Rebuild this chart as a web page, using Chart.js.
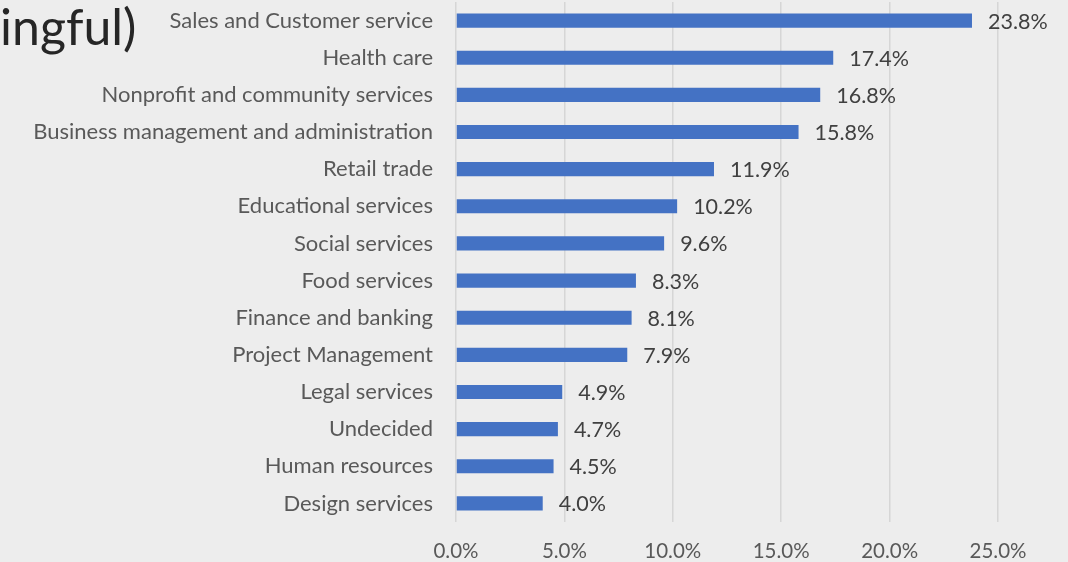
<!DOCTYPE html>
<html>
<head>
<meta charset="utf-8">
<script src="https://cdn.jsdelivr.net/npm/chart.js@4"></script>
<style>
  html, body { margin: 0; padding: 0; background: #ededed; }
  #wrap { width: 1068px; height: 562px; position: relative; }
</style>
</head>
<body>
<div id="wrap"><canvas id="c"></canvas></div>
<script>
// Fields of work, with the share of respondents for each
const categories = [
  'Sales and Customer service',
  'Health care',
  'Nonprofit and community services',
  'Business management and administration',
  'Retail trade',
  'Educational services',
  'Social services',
  'Food services',
  'Finance and banking',
  'Project Management',
  'Legal services',
  'Undecided',
  'Human resources',
  'Design services'
];
const shares = [23.8, 17.4, 16.8, 15.8, 11.9, 10.2, 9.6, 8.3, 8.1, 7.9, 4.9, 4.7, 4.5, 4.0];
const xTicks = [0, 5, 10, 15, 20, 25];
const titleFragment = 'ingful)';

const FONT = 'Lato, "Open Sans", sans-serif';

// Percentage labels at the end of each bar
const valueLabels = {
  id: 'valueLabels',
  afterDatasetsDraw(chart) {
    const ctx = chart.ctx;
    const meta = chart.getDatasetMeta(0);
    ctx.save();
    ctx.font = '21.5px ' + FONT;
    ctx.fillStyle = '#404040';
    ctx.textAlign = 'left';
    ctx.textBaseline = 'middle';
    meta.data.forEach((bar, i) => {
      ctx.fillText(shares[i].toFixed(1) + '%', bar.x + 16, bar.y + 1);
    });
    ctx.restore();
  }
};

// Background fill and the trailing part of the slide heading
const backdrop = {
  id: 'backdrop',
  beforeDraw(chart) {
    const ctx = chart.ctx;
    ctx.save();
    ctx.fillStyle = '#ededed';
    ctx.fillRect(0, 0, chart.width, chart.height);
    ctx.font = '50px ' + FONT;
    ctx.fillStyle = '#262626';
    ctx.textAlign = 'left';
    ctx.textBaseline = 'alphabetic';
    ctx.fillText(titleFragment, 0, 45);
    ctx.restore();
  }
};

new Chart(document.getElementById('c'), {
  type: 'bar',
  data: {
    labels: categories,
    datasets: [{
      data: shares,
      backgroundColor: '#4472c4',
      borderWidth: 0,
      barPercentage: 0.38,
      categoryPercentage: 1.0
    }]
  },
  options: {
    indexAxis: 'y',
    responsive: true,
    maintainAspectRatio: false,
    animation: false,
    layout: { padding: { left: 0, right: 70, top: 2, bottom: 0 } },
    plugins: {
      legend: { display: false },
      tooltip: { enabled: false },
      title: { display: false }
    },
    scales: {
      x: {
        min: 0,
        max: 25,
        afterBuildTicks(scale) {
          scale.ticks = xTicks.map(v => ({ value: v }));
        },
        afterFit(scale) {
          scale.height = 40;
          scale.paddingLeft = 0;
          scale.paddingRight = 0;
        },
        grid: { color: '#d6d6d6', lineWidth: 1.5, drawTicks: false },
        border: { display: false },
        ticks: {
          padding: 17,
          color: '#595959',
          font: { family: FONT, size: 20.5 },
          callback: v => Number(v).toFixed(1) + '%'
        }
      },
      y: {
        afterFit(scale) {
          scale.width = 456;
          scale.paddingTop = 0;
          scale.paddingBottom = 0;
        },
        grid: { display: false, drawTicks: false },
        border: { display: false },
        ticks: {
          padding: 23,
          color: '#595959',
          font: { family: FONT, size: 22 },
          autoSkip: false
        }
      }
    }
  },
  plugins: [backdrop, valueLabels]
});
</script>
</body>
</html>
